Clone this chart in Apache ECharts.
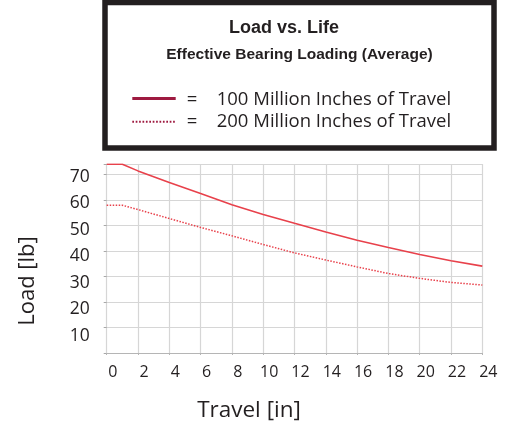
<!DOCTYPE html>
<html>
<head>
<meta charset="utf-8">
<script src="https://cdn.jsdelivr.net/npm/echarts@6/dist/echarts.min.js"></script>
<style>
  html, body { margin: 0; padding: 0; background: #ffffff; }
  #chart { width: 510px; height: 427px; }
</style>
</head>
<body>
<div id="chart"></div>
<script>
// ---- data ----
const travelIn = [0, 1, 2, 4, 6, 8, 10, 12, 14, 16, 18, 20, 22, 24];
const load100M = [74.1, 74.1, 71.5, 66.9, 62.6, 58.2, 54.4, 50.9, 47.5, 44.3, 41.4, 38.7, 36.2, 34.1];
const load200M = [58.0, 58.0, 56.3, 52.8, 49.3, 46.0, 42.6, 39.3, 36.5, 33.8, 31.2, 29.3, 27.7, 26.7];
const yTickLabels = [10, 20, 30, 40, 50, 60, 70];
const titleText = 'Load vs. Life';
const subtitleText = 'Effective Bearing Loading (Average)';
const legendNames = ['100 Million Inches of Travel', '200 Million Inches of Travel'];
const xAxisTitle = 'Travel [in]';
const yAxisTitle = 'Load [lb]';

const LABEL_FONT = '"Open Sans", "Noto Sans", sans-serif';
const RED = '#e8414b';
const MAROON = '#9e1a40';
const GRID = '#d6d6d6';

const chart = echarts.init(document.getElementById('chart'), null, { renderer: 'canvas' });

const pair = (xs, ys) => xs.map((x, i) => [x, ys[i]]);

chart.setOption({
  animation: false,
  backgroundColor: '#ffffff',
  grid: { left: 106.7, right: 27.7, top: 164, bottom: 74, containLabel: false },
  xAxis: {
    type: 'value', min: 0, max: 24, interval: 2,
    axisLine: { show: true, lineStyle: { color: '#b5b5b5', width: 1.2 } },
    axisTick: { show: true, length: 2, lineStyle: { color: '#b5b5b5' } },
    splitLine: { show: true, lineStyle: { color: GRID, width: 1.2 } },
    axisLabel: { color: '#231f20', fontFamily: LABEL_FONT, fontSize: 16, margin: 11, padding: [0, 0, 0, 12] }
  },
  yAxis: [
    {
      type: 'value', min: 0, max: 74.2, interval: 10, position: 'left',
      axisLine: { show: false },
      axisTick: { show: true, length: 3, lineStyle: { color: '#a8a8a8' } },
      splitLine: { show: true, lineStyle: { color: GRID, width: 1.2 } },
      axisLabel: { show: false }
    },
    {
      type: 'value', min: 3.47, max: 74.79, position: 'left',
      axisLine: { show: false }, axisTick: { show: false }, splitLine: { show: false },
      axisLabel: {
        show: true, customValues: yTickLabels, color: '#231f20',
        fontFamily: LABEL_FONT, fontSize: 17.5, margin: 17
      }
    }
  ],
  series: [
    {
      name: legendNames[0], type: 'line', yAxisIndex: 0, showSymbol: false,
      data: pair(travelIn, load100M),
      lineStyle: { color: RED, width: 1.6 }
    },
    {
      name: legendNames[1], type: 'line', yAxisIndex: 0, showSymbol: false,
      data: pair(travelIn, load200M),
      lineStyle: { color: RED, width: 1.5, type: [1.5, 1.5] }
    }
  ],
  graphic: [
    { type: 'rect', shape: { x: 105, y: 2.5, width: 389, height: 145.5 },
      style: { fill: null, stroke: '#231f20', lineWidth: 5.5 }, z: 10 },
    { type: 'text', x: 284, y: 28, z: 11,
      style: { text: titleText, fill: '#231f20', font: 'bold 18px "Liberation Sans", Arial, sans-serif', textAlign: 'center', textVerticalAlign: 'middle' } },
    { type: 'text', x: 299.5, y: 55, z: 11,
      style: { text: subtitleText, fill: '#231f20', font: 'bold 15.5px "Liberation Sans", Arial, sans-serif', textAlign: 'center', textVerticalAlign: 'middle' } },
    { type: 'line', z: 11, shape: { x1: 132.3, y1: 98.5, x2: 175.7, y2: 98.5 },
      style: { stroke: MAROON, lineWidth: 3 } },
    { type: 'line', z: 11, shape: { x1: 132.3, y1: 121.7, x2: 175.7, y2: 121.7 },
      style: { stroke: MAROON, lineWidth: 2, lineDash: [1.7, 1.7] } },
    { type: 'text', x: 192, y: 100, z: 11,
      style: { text: '=', fill: '#231f20', font: '18.5px ' + LABEL_FONT, textAlign: 'center', textVerticalAlign: 'middle' } },
    { type: 'text', x: 192, y: 121.7, z: 11,
      style: { text: '=', fill: '#231f20', font: '18.5px ' + LABEL_FONT, textAlign: 'center', textVerticalAlign: 'middle' } },
    { type: 'text', x: 216.7, y: 100, z: 11,
      style: { text: legendNames[0], fill: '#231f20', font: '18.5px ' + LABEL_FONT, textAlign: 'left', textVerticalAlign: 'middle' } },
    { type: 'text', x: 216.7, y: 121.7, z: 11,
      style: { text: legendNames[1], fill: '#231f20', font: '18.5px ' + LABEL_FONT, textAlign: 'left', textVerticalAlign: 'middle' } },
    { type: 'text', x: 249, y: 411, z: 11,
      style: { text: xAxisTitle, fill: '#231f20', font: '22.5px ' + LABEL_FONT, textAlign: 'center', textVerticalAlign: 'middle' } },
    { type: 'text', x: 28, y: 281, rotation: Math.PI / 2, z: 11,
      style: { text: yAxisTitle, fill: '#231f20', font: '22px ' + LABEL_FONT, textAlign: 'center', textVerticalAlign: 'middle' } }
  ]
});
</script>
</body>
</html>
